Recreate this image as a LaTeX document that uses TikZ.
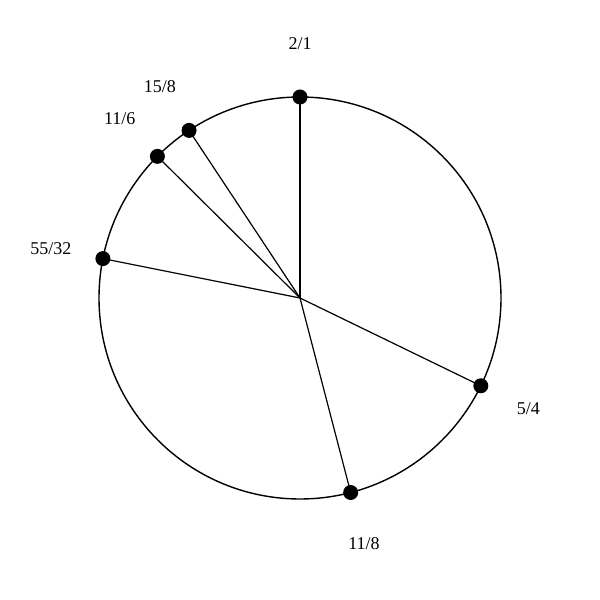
\documentclass[tikz,border=0pt]{standalone}
\usepackage{fontspec}
\setmainfont{Liberation Serif}
\usetikzlibrary{calc}
\begin{document}
\begin{tikzpicture}[x=1pt,y=1pt,
  dot/.style={circle,fill=black,inner sep=0pt,minimum size=15pt},
  lbl/.style={font=\fontsize{18}{20}\selectfont}]
\useasboundingbox (0,0) rectangle (600,600);
\coordinate (c) at (300,302);
\draw[line width=1.4pt] (c) circle (201);
\foreach \n/\a/\t in {a/90/2\slash 1, b/123.5/15\slash 8, d/135.2/11\slash 6, e/168.7/55\slash 32, f/-25.9/5\slash 4, g/-75.4/11\slash 8}{
  \coordinate (q\n) at ($(c)+(\a:201)$);
  \draw[line width=1.2pt] (c) -- (q\n);
  \node[dot] (p\n) at (q\n) {};
  \node[lbl] (l\n) at ($(c)+(\a:254)$) {\t};
}
\end{tikzpicture}
\end{document}
